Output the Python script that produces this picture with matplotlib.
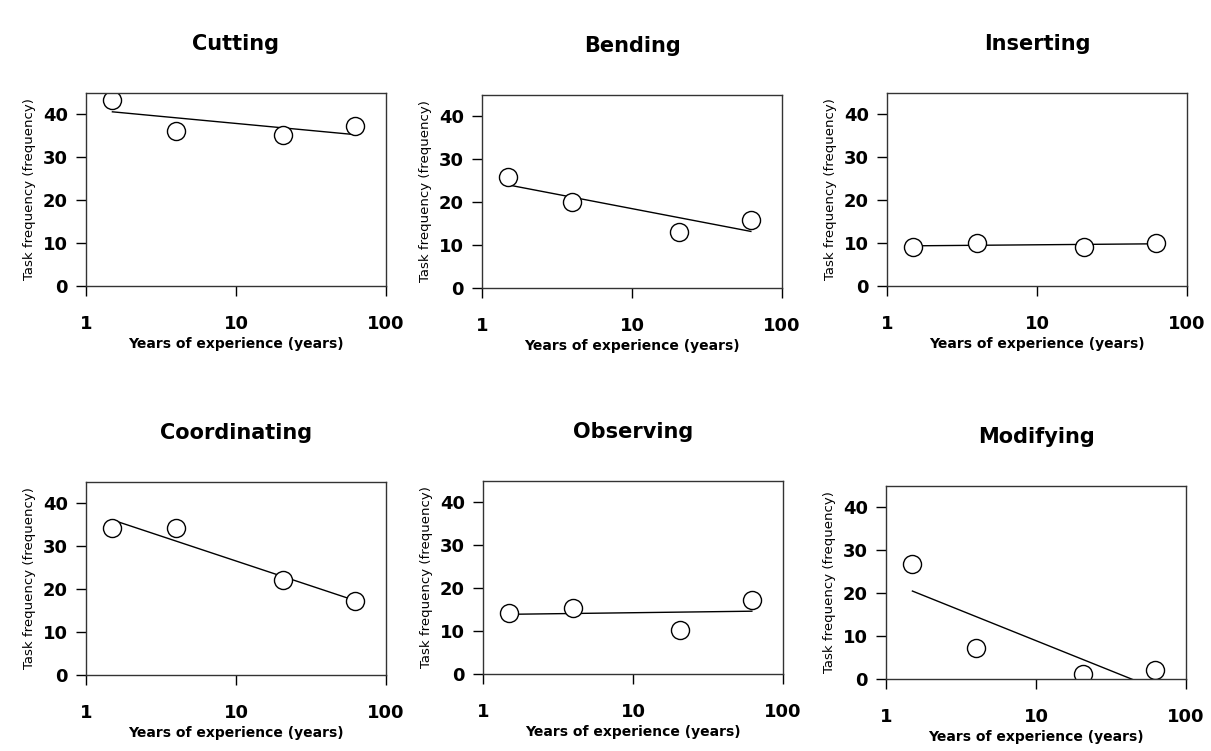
import numpy as np
import matplotlib.pyplot as plt
from matplotlib.ticker import FixedLocator, NullLocator, FuncFormatter

# experience groups (years)
years = np.array([1.5, 4.0, 20.5, 62.0])

titles = ["Cutting", "Bending", "Inserting",
          "Coordinating", "Observing", "Modifying"]
cutting = [43.3, 36.2, 35.3, 37.2]
bending = [25.9, 20.0, 13.0, 15.9]
inserting = [9.1, 10.1, 9.1, 10.1]
coordinating = [34.2, 34.2, 22.1, 17.2]
observing = [14.3, 15.3, 10.2, 17.3]
modifying = [26.9, 7.2, 1.2, 2.1]
series = [cutting, bending, inserting, coordinating, observing, modifying]

y_ticks = [0, 10, 20, 30, 40]
x_ticks = [1, 10, 100]

W, H = 1211, 751
fig = plt.figure(figsize=(W / 100, H / 100), dpi=100)

# box positions in pixels: left, top
boxes = [(86, 93), (482, 95), (887, 93),
         (86, 482), (483, 481), (886, 486)]
bw, bh = 300, 193

for (left, top), title, vals in zip(boxes, titles, series):
    ax = fig.add_axes([left / W, 1 - (top + bh) / H, bw / W, bh / H])
    vals = np.array(vals)

    # log-linear trend line
    b, a = np.polyfit(np.log10(years), vals, 1)
    xl = np.linspace(years[0], years[-1], 50)
    ax.plot(xl, a + b * np.log10(xl), color="black", lw=1)

    ax.plot(years, vals, "o", ms=13, mfc="white", mec="black", mew=1)

    ax.set_xscale("log")
    ax.set_xlim(1, 100)
    ax.set_ylim(0, 45)
    ax.xaxis.set_major_locator(FixedLocator(x_ticks))
    ax.xaxis.set_minor_locator(NullLocator())
    ax.xaxis.set_major_formatter(FuncFormatter(lambda v, p: "%d" % v))
    ax.set_yticks(y_ticks)
    ax.tick_params(axis="x", direction="out", length=7, width=1, pad=14,
                   labelsize=13)
    ax.tick_params(axis="y", direction="out", length=7, width=1, pad=6,
                   labelsize=13)
    for lab in ax.get_xticklabels() + ax.get_yticklabels():
        lab.set_fontweight("bold")
    for sp in ax.spines.values():
        sp.set_linewidth(1)
        sp.set_color("#333333")

    ax.set_title(title, fontsize=15, fontweight="bold", pad=31)
    ax.set_xlabel("Years of experience (years)", fontsize=10,
                  fontweight="bold", labelpad=3)
    ax.set_ylabel("Task frequency (frequency)", fontsize=9.5, labelpad=5)

fig.savefig("out.png", dpi=100)
